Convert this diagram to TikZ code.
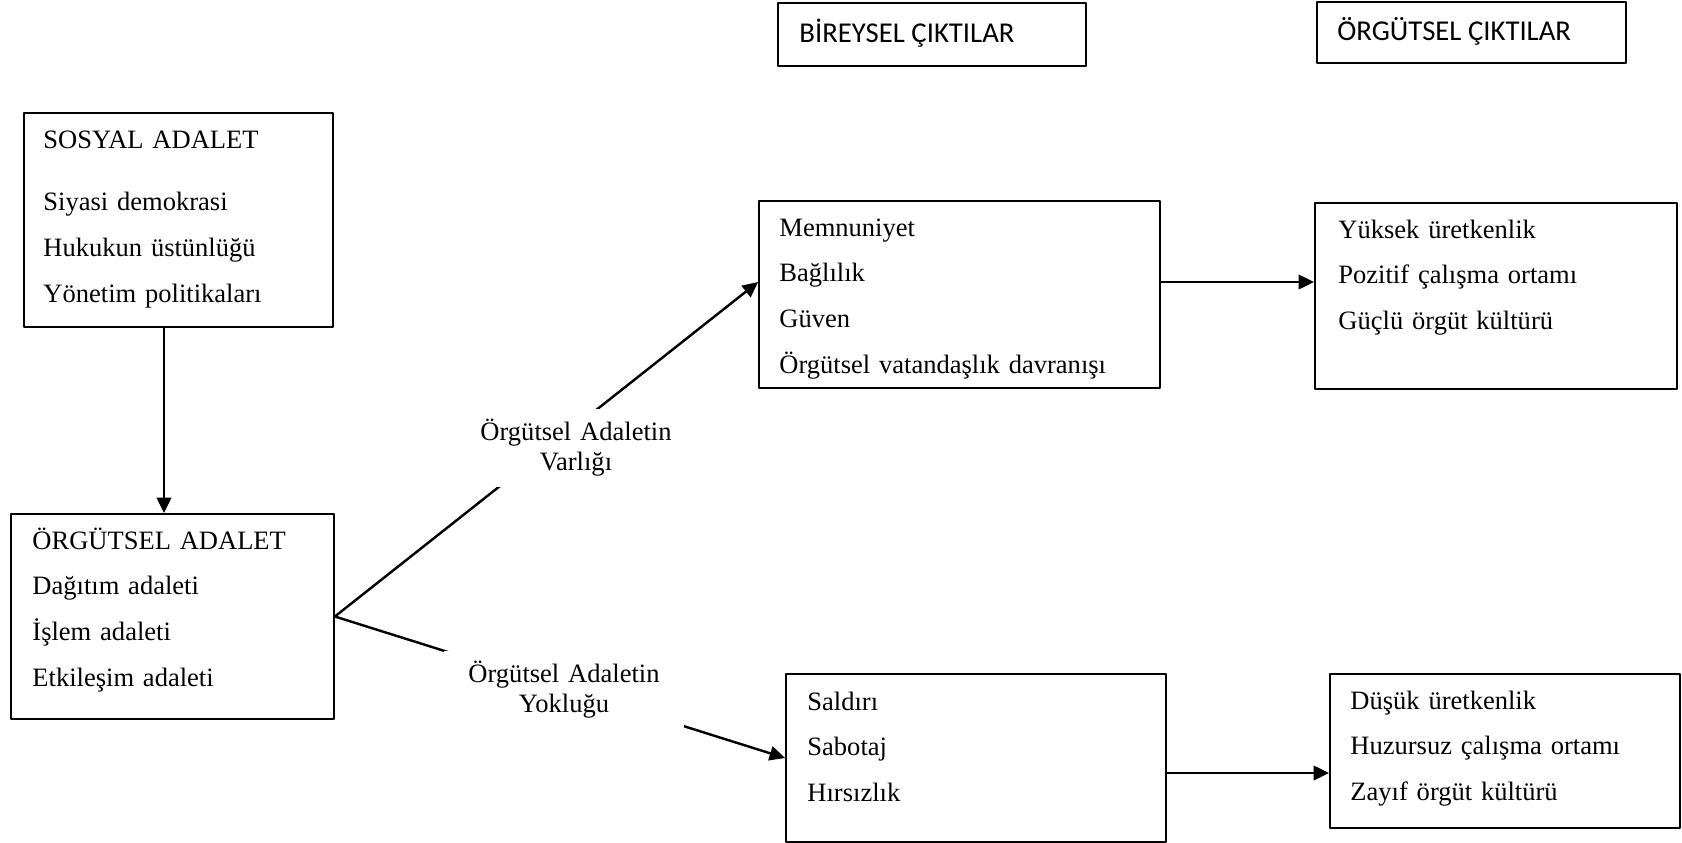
\documentclass[tikz,border=0pt]{standalone}
\usepackage{fontspec}
\setmainfont{Liberation Serif}
\newfontfamily\baslikfont{Carlito}
\usetikzlibrary{arrows.meta,fit}

\begin{document}
\begin{tikzpicture}[x=0.0159cm, y=-0.0159cm, line join=round, >={Triangle[length=7pt,width=6.5pt]},
		kutu/.style={draw, line width=0.8pt, inner sep=0pt},
		yazi/.style={anchor=base west, inner sep=0pt, text width=190pt, align=left, font=\fontsize{12}{20.8}\selectfont},
		baslik/.style={anchor=base west, inner sep=0pt, font=\baslikfont\fontsize{13}{15}\selectfont},
		etiket/.style={fill=white, inner sep=4.5pt, text width=100pt, align=center, anchor=base, font=\fontsize{12}{14}\selectfont},
		ok/.style={->, line width=1.1pt}]
		\useasboundingbox (0,0) rectangle (1682,843);
		% basliklar
		\node[kutu, fit={(778,3) (1086,66)}] (bireysel) {};
		\node[kutu, fit={(1317,2) (1626,63)}] (orgutsel) {};
		\node[baslik] (bireyselyazi) at (799,42) {BİREYSEL ÇIKTILAR};
		\node[baslik] (orgutselyazi) at (1337,40) {ÖRGÜTSEL ÇIKTILAR};
		% kutular
		\node[kutu, fit={(24,113) (333,327)}] (sosyal) {};
		\node[kutu, fit={(11,514) (334,719)}] (adalet) {};
		\node[kutu, fit={(759,201) (1160,388)}] (olumlu) {};
		\node[kutu, fit={(1315,203) (1677,389)}] (yuksek) {};
		\node[kutu, fit={(786,674) (1166,842)}] (olumsuz) {};
		\node[kutu, fit={(1330,674) (1680,828)}] (dusuk) {};
		% yazilar
		\node[yazi] (sosyalyazi) at (43,148) {SOSYAL ADALET\\[7.3pt] Siyasi demokrasi\\ Hukukun üstünlüğü\\ Yönetim politikaları};
		\node[yazi] (adaletyazi) at (32,549) {ÖRGÜTSEL ADALET\\ Dağıtım adaleti\\ İşlem adaleti\\ Etkileşim adaleti};
		\node[yazi] (olumluyazi) at (779,236) {Memnuniyet\\ Bağlılık\\ Güven\\ Örgütsel vatandaşlık davranışı};
		\node[yazi] (yuksekyazi) at (1338,238) {Yüksek üretkenlik\\ Pozitif çalışma ortamı\\ Güçlü örgüt kültürü};
		\node[yazi] (olumsuzyazi) at (807,710) {Saldırı\\ Sabotaj\\ Hırsızlık};
		\node[yazi] (dusukyazi) at (1350,709) {Düşük üretkenlik\\ Huzursuz çalışma ortamı\\ Zayıf örgüt kültürü};
		% oklar
		\draw[ok] (sosyal.south -| 164,0) -- (adalet.north -| 164,0);
		\draw[ok] (adalet.east) -- (olumlu.west |- 0,282);
		\draw[ok] (adalet.east) -- (olumsuz.west);
		\draw[ok] (olumlu.east |- 0,282) -- (yuksek.west |- 0,282);
		\draw[ok] (olumsuz.east |- 0,773) -- (dusuk.west |- 0,773);
		\node[etiket] (varlik) at (576,440) {Örgütsel Adaletin\\ Varlığı};
		\node[etiket] (yokluk) at (564,682) {Örgütsel Adaletin\\ Yokluğu};
	\end{tikzpicture}
\end{document}
